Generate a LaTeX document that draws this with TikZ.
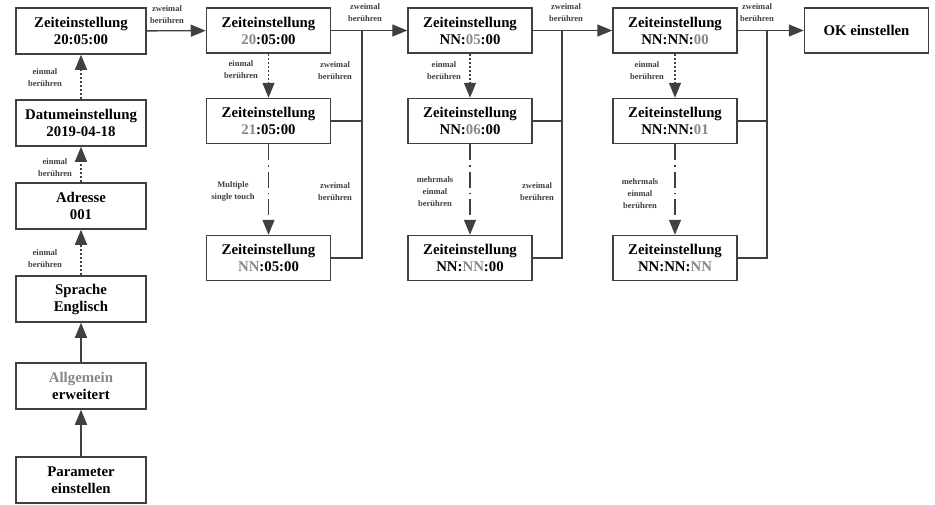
\documentclass[tikz,border=0pt]{standalone}
\usepackage{fontspec}
\setmainfont{Liberation Serif}
\usepackage{tikz}
\usetikzlibrary{positioning,arrows.meta,calc}
\definecolor{LineGray}{RGB}{64,64,64}
\definecolor{PartGray}{RGB}{135,135,135}
\newcommand{\gr}[1]{\textcolor{PartGray}{#1}}
\tikzset{
  box/.style={draw=LineGray,line width=1.5pt,fill=white,align=center,inner sep=0pt,
    minimum width=124pt,minimum height=45pt,font=\bfseries\fontsize{14.8}{17}\selectfont},
  bigbox/.style={box,minimum width=130pt,minimum height=46pt},
  lbl/.style={align=center,inner sep=0pt,font=\bfseries\fontsize{8.5}{12}\selectfont,text=LineGray},
  conn/.style={LineGray,line width=1.4pt},
  arr/.style={conn,-{Triangle[length=15pt,width=12pt]}},
  touch/.style={arr,dash pattern=on 2pt off 2pt},
  multi/.style={arr,dash pattern=on 16pt off 5pt on 1.5pt off 5pt}
}

\begin{document}
\begin{tikzpicture}[x=1pt,y=-1pt]
  \useasboundingbox (0,0) rectangle (935,504);
  % left column
  \node[bigbox] (Zstart) at (81,31) {Zeiteinstellung\\20:05:00};
  \node[bigbox] (Datum) at (81,123) {Datumeinstellung\\2019-04-18};
  \node[bigbox] (Adr) at (81,206) {Adresse\\001};
  \node[bigbox] (Spr) at (81,299) {Sprache\\Englisch};
  \node[bigbox] (Allg) at (81,386) {\gr{Allgemein}\\erweitert};
  \node[bigbox] (Param) at (81,480) {Parameter\\einstellen};
  \draw[arr] (Param) -- (Allg);
  \draw[arr] (Allg) -- (Spr);
  \draw[touch] (Spr) -- (Adr);
  \draw[touch] (Adr) -- (Datum);
  \draw[touch] (Datum) -- (Zstart);
  \node[lbl] (Lone) at (45,78) {einmal\\berühren};
  \node[lbl] (Ltwo) at (55,168) {einmal\\berühren};
  \node[lbl] (Lthree) at (45,259) {einmal\\berühren};

  % hour column
  \node[box] (Hone) at (268.5,30.5) {Zeiteinstellung\\\gr{20}:05:00};
  \node[box] (Htwo) at (268.5,121) {Zeiteinstellung\\\gr{21}:05:00};
  \node[box] (Hthree) at (268.5,258) {Zeiteinstellung\\\gr{NN}:05:00};
  \draw[arr] (Zstart) -- (Hone);
  \node[lbl] (Hzw) at (167,15) {zweimal\\berühren};
  \draw[touch] (Hone) -- (Htwo);
  \draw[multi] (Htwo) -- (Hthree);
  \node[lbl] (Hein) at (241,70) {einmal\\berühren};
  \node[lbl] (Hmul) at (233,191) {Multiple\\single touch};

  % minute column
  \node[box] (Mone) at (470,30.5) {Zeiteinstellung\\NN:\gr{05}:00};
  \node[box] (Mtwo) at (470,121) {Zeiteinstellung\\NN:\gr{06}:00};
  \node[box] (Mthree) at (470,258) {Zeiteinstellung\\NN:\gr{NN}:00};
  \draw[arr] (Hone) -- (Mone);
  \coordinate (Hbus) at (362,30.5);
  \draw[conn] (Htwo.east) -| (Hbus);
  \draw[conn] (Hthree.east) -| (Hbus);
  \node[lbl] (Hzwa) at (335,71) {zweimal\\berühren};
  \node[lbl] (Hzwb) at (335,192) {zweimal\\berühren};
  \node[lbl] (Hzwc) at (365,13) {zweimal\\berühren};
  \draw[touch] (Mone) -- (Mtwo);
  \draw[multi] (Mtwo) -- (Mthree);
  \node[lbl] (Mein) at (444,71) {einmal\\berühren};
  \node[lbl] (Mmul) at (435,192) {mehrmals\\einmal\\berühren};

  % second column
  \node[box] (Sone) at (675,30.5) {Zeiteinstellung\\NN:NN:\gr{00}};
  \node[box] (Stwo) at (675,121) {Zeiteinstellung\\NN:NN:\gr{01}};
  \node[box] (Sthree) at (675,258) {Zeiteinstellung\\NN:NN:\gr{NN}};
  \draw[arr] (Mone) -- (Sone);
  \coordinate (Mbus) at (562,30.5);
  \draw[conn] (Mtwo.east) -| (Mbus);
  \draw[conn] (Mthree.east) -| (Mbus);
  \node[lbl] (Mzwa) at (537,192) {zweimal\\berühren};
  \node[lbl] (Mzwb) at (566,13) {zweimal\\berühren};
  \draw[touch] (Sone) -- (Stwo);
  \draw[multi] (Stwo) -- (Sthree);
  \node[lbl] (Sein) at (647,71) {einmal\\berühren};
  \node[lbl] (Smul) at (640,194) {mehrmals\\einmal\\berühren};

  % confirm
  \node[box] (OK) at (866.5,30.5) {OK einstellen};
  \draw[arr] (Sone) -- (OK);
  \coordinate (Sbus) at (767,30.5);
  \draw[conn] (Stwo.east) -| (Sbus);
  \draw[conn] (Sthree.east) -| (Sbus);
  \node[lbl] (Szw) at (757,13) {zweimal\\berühren};
\end{tikzpicture}
\end{document}
